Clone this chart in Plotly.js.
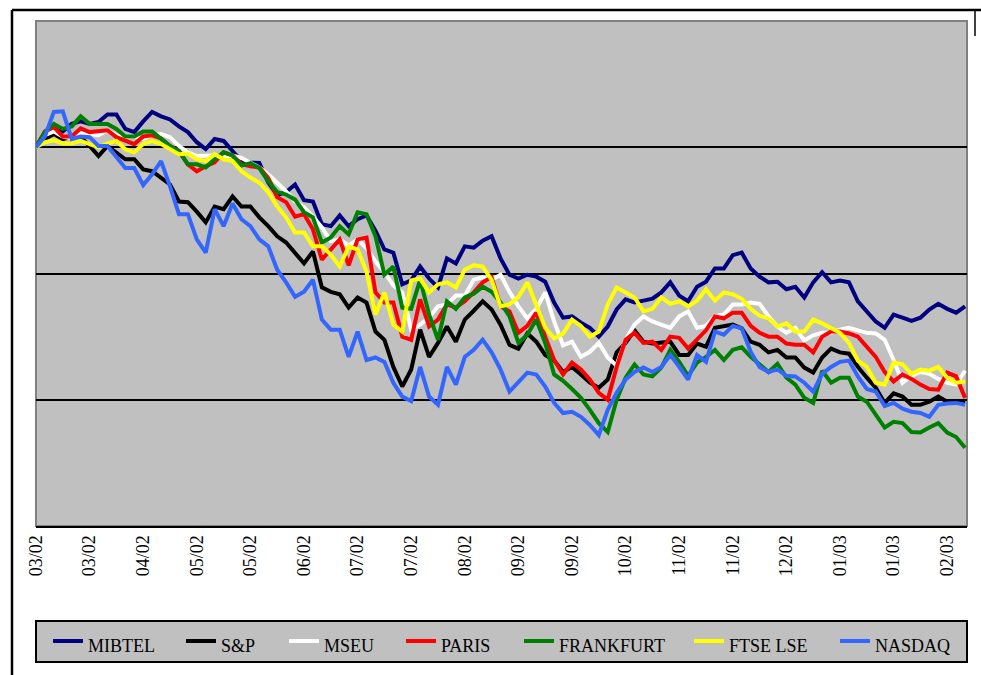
<!DOCTYPE html>
<html>
<head>
<meta charset="utf-8">
<script src="https://cdn.plot.ly/plotly-3.0.1.min.js"></script>
<style>
html,body{margin:0;padding:0;background:#ffffff;}
#chart{width:981px;height:675px;}
</style>
</head>
<body>
<div id="chart"></div>
<script>
// ---- data (index levels, start = 100) ----
const tickLabels = ["03/02","03/02","04/02","05/02","05/02","06/02","07/02","07/02","08/02",
                    "09/02","09/02","10/02","11/02","11/02","12/02","01/03","01/03","02/03"];
const tickStep = 6;

const seriesNames  = ["MIBTEL","S&P","MSEU","PARIS","FRANKFURT","FTSE LSE","NASDAQ"];
const seriesColors = ["#000080","#000000","#FFFFFF","#FF0000","#008000","#FFFF00","#3366FF"];

const mibtel = [100.0,102.4,103.2,102.5,103.7,104.1,103.7,104.0,105.2,105.2,
102.9,102.4,104.1,105.6,104.9,104.4,103.3,102.4,100.8,99.7,
101.3,101.0,99.4,97.8,97.6,97.5,94.4,92.4,92.9,94.1,
91.6,91.4,87.8,87.5,89.2,87.5,88.6,89.2,86.8,83.8,
83.3,78.3,78.9,81.1,79.2,77.8,82.4,81.6,84.3,84.1,
85.2,85.9,82.4,79.8,79.2,79.8,79.5,78.7,75.4,73.0,
73.2,72.2,71.4,70.0,71.6,74.3,75.9,75.4,75.7,76.0,
77.0,78.6,76.5,75.6,77.9,78.7,80.8,80.8,82.9,83.3,
80.8,79.5,78.6,78.7,77.5,77.9,76.2,78.6,80.2,78.6,
78.9,78.6,75.6,74.1,72.4,71.4,73.5,73.0,72.5,73.0,
74.3,75.2,74.4,73.8,74.8];

const sp = [100.0,101.3,102.1,101.3,101.7,101.6,100.2,98.6,100.2,99.2,
98.1,98.1,96.5,96.2,95.2,94.1,91.4,91.3,89.8,88.1,
90.6,90.2,92.2,90.6,90.6,88.9,87.5,85.9,84.9,83.3,
81.6,83.5,77.8,77.1,76.7,74.6,76.2,75.4,70.8,69.5,
65.2,62.1,64.8,71.1,66.8,69.0,71.6,69.2,72.7,74.1,
75.6,74.3,71.9,68.7,68.1,70.5,69.2,67.1,66.2,64.4,
65.2,64.0,62.7,61.9,63.2,67.5,69.0,71.0,69.2,68.9,
69.0,69.2,67.1,67.1,68.9,68.4,71.4,71.7,71.9,71.3,
69.2,68.7,67.5,67.9,66.7,66.7,65.1,64.3,66.7,68.1,
67.5,67.3,65.2,63.5,61.9,59.5,61.0,60.5,59.2,59.2,
59.7,60.5,59.7,59.7,59.5];

const mseu = [100.0,101.9,102.5,101.7,101.4,102.2,102.1,101.9,102.7,101.9,
101.6,101.7,101.3,101.9,102.1,101.6,100.2,99.2,98.6,98.6,
98.7,98.4,98.7,98.3,97.6,96.8,95.7,94.4,93.0,91.4,
90.5,89.0,87.3,85.1,85.4,84.4,85.4,84.0,81.9,80.2,
78.1,77.0,71.1,71.9,73.0,74.8,75.1,76.5,76.5,79.0,
79.4,79.0,79.8,77.1,74.8,72.9,74.4,77.0,72.4,68.6,
69.2,66.8,67.6,69.0,66.7,65.4,69.5,71.9,73.2,72.4,
71.9,71.4,73.2,74.0,71.4,71.7,73.2,73.5,75.1,75.1,
75.4,75.2,73.2,71.6,70.6,71.4,69.4,70.2,70.6,70.6,
71.1,71.4,71.0,70.6,70.5,69.5,66.3,62.7,63.8,64.4,
64.1,63.3,62.7,62.4,64.6];

const paris = [100.0,102.5,103.2,101.7,101.7,103.0,102.4,102.5,102.7,101.6,
101.1,100.5,101.7,101.9,101.4,100.2,99.4,97.3,96.2,97.0,
97.6,99.2,98.7,97.3,97.0,96.8,95.1,92.1,91.3,89.0,
89.4,87.0,82.2,83.7,85.4,81.3,85.4,85.7,77.0,75.4,
75.4,70.0,69.5,75.9,71.6,72.7,75.1,74.6,75.6,77.0,
78.6,79.4,74.8,74.0,70.6,71.7,73.8,70.0,66.3,64.0,
65.9,64.8,63.2,61.1,60.0,65.2,69.5,70.6,69.0,69.2,
67.9,70.0,69.8,68.1,69.5,71.0,73.2,72.9,73.8,73.8,
71.7,70.6,70.0,70.0,68.9,68.7,68.7,67.5,70.0,70.8,
70.8,70.5,70.0,68.4,66.8,64.4,62.9,64.0,63.3,62.4,
61.7,61.6,64.3,63.7,60.3];

const frankfurt = [100.0,102.4,103.7,102.9,103.3,104.9,103.7,103.7,103.7,102.9,
101.7,101.7,102.5,102.5,101.3,100.2,99.4,97.3,97.3,96.8,
98.1,99.2,98.7,97.1,97.5,96.7,94.6,92.9,92.5,91.7,
89.7,88.9,84.9,85.7,87.5,86.2,89.7,89.4,85.9,79.8,
81.1,74.6,74.4,79.0,73.5,69.5,75.6,74.4,76.2,76.8,
77.9,77.1,75.4,73.2,69.0,70.3,72.7,69.0,64.0,63.0,
61.7,60.3,58.4,56.3,54.9,60.0,63.5,65.6,64.0,63.7,
65.1,67.9,66.0,63.8,65.9,66.8,67.9,66.3,67.9,68.3,
66.8,65.6,64.4,65.7,63.5,62.4,60.3,59.5,64.6,62.7,
63.5,63.5,60.5,59.7,57.6,55.6,56.5,56.3,54.9,54.8,
55.6,56.3,54.8,54.1,52.4];

const ftse = [100.0,100.8,101.1,100.6,100.6,101.0,100.5,100.0,100.6,101.0,
99.7,99.2,100.5,101.0,100.5,99.7,98.9,99.0,98.1,97.8,
98.9,98.1,97.8,96.2,95.2,94.4,92.9,90.6,88.9,86.5,
86.5,84.3,84.3,83.0,81.1,84.3,83.8,80.3,73.5,77.0,
71.9,70.8,78.9,79.2,77.0,78.3,78.6,77.8,80.6,81.3,
81.1,79.0,74.8,75.1,76.3,78.6,75.1,71.4,69.7,70.5,
72.7,71.7,70.0,70.8,75.1,77.8,77.0,76.2,74.0,74.4,
76.2,75.2,75.6,74.8,75.7,77.5,75.7,77.0,76.7,76.0,
74.4,73.3,72.9,71.6,72.1,70.8,70.8,72.7,72.1,71.3,
70.6,69.0,66.2,65.2,62.7,62.4,65.9,65.6,64.1,64.8,
64.6,65.2,63.5,62.7,62.9];

const nasdaq = [100.0,101.7,105.6,105.7,101.3,101.7,101.6,100.2,100.2,98.4,
96.7,96.7,94.0,95.7,97.8,93.8,89.4,89.4,85.4,83.3,
90.2,87.5,91.1,88.6,87.5,85.4,84.3,80.6,78.6,76.3,
77.1,79.0,72.7,71.1,71.1,66.8,70.8,66.3,66.7,66.0,
62.7,60.5,59.8,65.2,60.5,59.2,65.2,62.4,66.8,67.9,
69.5,67.5,64.8,61.3,62.7,64.3,64.0,62.1,59.5,57.9,
58.1,57.3,56.0,54.4,58.4,61.1,63.2,64.4,65.1,64.4,
65.2,67.1,65.2,63.2,67.1,66.0,70.8,70.3,71.7,71.3,
67.6,65.2,64.4,64.8,63.8,63.7,62.7,61.3,64.1,65.2,
66.0,66.2,63.7,61.7,61.3,59.0,59.5,58.6,58.1,57.9,
57.3,59.2,59.4,59.5,59.2];

const seriesValues = [mibtel, sp, mseu, paris, frankfurt, ftse, nasdaq];

// ---- geometry helpers (layout only) ----
const W = 981, H = 675;
const M = {l: 36, r: 14, t: 21, b: 149};
const PW = W - M.l - M.r, PH = H - M.t - M.b;
const px = x => (x - M.l) / PW;
const py = y => (H - M.b - y) / PH;

const FONT = "'Liberation Serif', 'Times New Roman', serif";

const traces = seriesValues.map((vals, k) => ({
  type: "scatter",
  mode: "lines",
  name: seriesNames[k],
  x: vals.map((_, i) => i),
  y: vals,
  line: {color: seriesColors[k], width: 4},
  hoverinfo: "skip",
  showlegend: false
}));

const tickVals = tickLabels.map((_, i) => i * tickStep);

// custom legend positions (pixel x where the label text starts)
const legendTextX = [86, 219, 322, 439, 557, 727, 873];

const shapes = [
  // outer frame pieces
  {type:"line", xref:"paper", yref:"paper", x0:px(12), x1:px(981), y0:py(10), y1:py(10), line:{color:"#000", width:2.5}},
  {type:"line", xref:"paper", yref:"paper", x0:px(12), x1:px(12), y0:py(10), y1:py(675), line:{color:"#000", width:2.5}},
  {type:"line", xref:"paper", yref:"paper", x0:px(975), x1:px(975), y0:py(10), y1:py(36), line:{color:"#000", width:1.5}},
  // plot border
  {type:"rect", xref:"paper", yref:"paper", x0:0, x1:1, y0:0, y1:1, line:{color:"#808080", width:2}, layer:"below"},
  // legend box
  {type:"rect", xref:"paper", yref:"paper", x0:px(36), x1:px(967), y0:py(662), y1:py(621),
   fillcolor:"#C0C0C0", line:{color:"#000", width:2}}
];
const annotations = [];
seriesNames.forEach((n, k) => {
  const tx = legendTextX[k];
  shapes.push({type:"line", xref:"paper", yref:"paper", x0:px(tx - 33), x1:px(tx - 3), y0:py(641), y1:py(641),
               line:{color:seriesColors[k], width:4}});
  annotations.push({xref:"paper", yref:"paper", x:px(tx), y:py(646), xanchor:"left", yanchor:"middle",
                    text:n, showarrow:false, font:{family:FONT, size:18, color:"#000"}});
});

const layout = {
  width: W, height: H,
  margin: M,
  paper_bgcolor: "#FFFFFF",
  plot_bgcolor: "#C0C0C0",
  showlegend: false,
  font: {family: FONT, size: 18, color: "#000"},
  xaxis: {
    range: [0, (967 - 36) / (53.6 / tickStep)],
    tickmode: "array", tickvals: tickVals, ticktext: tickLabels,
    tickangle: -90, ticks: "", showgrid: false, zeroline: false,
    showline: true, linecolor: "#000", linewidth: 2,
    tickfont: {family: FONT, size: 18, color: "#000"},
    fixedrange: true
  },
  yaxis: {
    range: [40, 120],
    tickmode: "array", tickvals: [60, 80, 100],
    showticklabels: false, ticks: "",
    showgrid: true, gridcolor: "#000", gridwidth: 2,
    zeroline: false, showline: false, fixedrange: true
  },
  shapes: shapes,
  annotations: annotations
};

Plotly.newPlot("chart", traces, layout, {staticPlot: true, displayModeBar: false});
</script>
</body>
</html>
